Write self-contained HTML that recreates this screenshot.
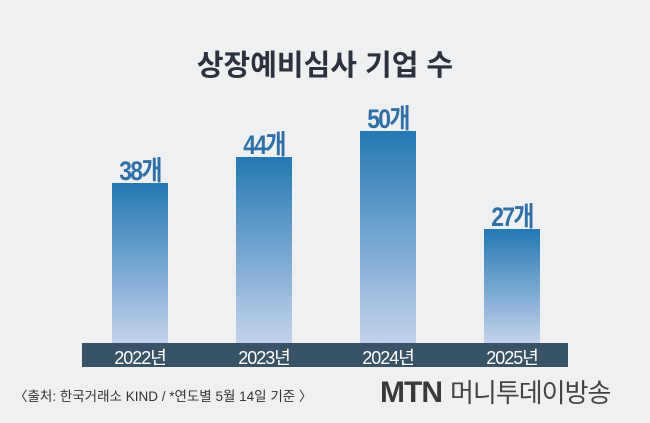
<!DOCTYPE html>
<html><head><meta charset="utf-8"><style>
body{margin:0;width:650px;height:423px;background:#eff0f2;position:relative;overflow:hidden;font-family:"Liberation Sans","Noto Sans CJK KR",sans-serif}
.t{position:absolute;left:0;width:650px;text-align:center;top:42px;font-size:29px;font-weight:bold;color:#2b323d}
.bar{position:absolute;width:56px;background:linear-gradient(#2478b3,#c3d2ec);bottom:80px}
.lab{position:absolute;width:100px;text-align:center;font-size:27px;font-weight:bold;color:#2f70a8;letter-spacing:-2px;transform:scaleX(0.85)}
.band{position:absolute;left:82px;top:343px;width:486px;height:24px;background:#385366}
.yr{position:absolute;top:344px;width:100px;text-align:center;color:#fff;font-size:18px;letter-spacing:-1px}
.src{position:absolute;left:14px;top:385px;font-size:13.5px;color:#333}
.mtn{position:absolute;left:380px;top:373px;font-size:30px;font-weight:bold;color:#3a3a3a;letter-spacing:-1px}
.mtn span{font-weight:normal;font-size:26px;color:#444;margin-left:8px}
</style></head><body>
<div class="t">상장예비심사 기업 수</div>
<div class="bar" style="left:112px;top:183px"></div>
<div class="bar" style="left:236px;top:157px"></div>
<div class="bar" style="left:360px;top:131px"></div>
<div class="bar" style="left:484px;top:229px"></div>
<div class="lab" style="left:90px;top:149px">38개</div>
<div class="lab" style="left:214px;top:123px">44개</div>
<div class="lab" style="left:338px;top:97px">50개</div>
<div class="lab" style="left:462px;top:195px">27개</div>
<div class="band"></div>
<div class="yr" style="left:90px">2022년</div>
<div class="yr" style="left:214px">2023년</div>
<div class="yr" style="left:338px">2024년</div>
<div class="yr" style="left:462px">2025년</div>
<div class="src">〈출처: 한국거래소 KIND / *연도별 5월 14일 기준 〉</div>
<div class="mtn">MTN<span>머니투데이방송</span></div>
</body></html>
